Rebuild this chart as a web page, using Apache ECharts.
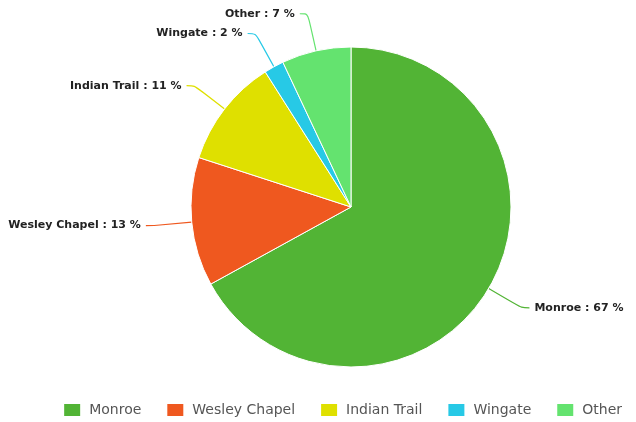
<!DOCTYPE html>
<html>
<head>
<meta charset="utf-8">
<script src="https://cdn.jsdelivr.net/npm/echarts@6/dist/echarts.min.js"></script>
<style>
  html, body { margin: 0; padding: 0; background: #fff; }
  #chart { width: 636px; height: 422px; }
</style>
</head>
<body>
<div id="chart"></div>
<script>
const categories = ['Monroe', 'Wesley Chapel', 'Indian Trail', 'Wingate', 'Other']
const shares = [67, 13, 11, 2, 7]
const colors = ['#52b435', '#ef581f', '#dfe000', '#27c9e6', '#64e36f']

const chart = echarts.init(document.getElementById('chart'))

chart.setOption({
  animation: false,
  color: colors,
  legend: {
    top: 397,
    right: 9,
    itemWidth: 18,
    itemHeight: 14,
    itemGap: 24,
    icon: 'rect',
    textStyle: { color: '#555', fontSize: 14, fontFamily: 'DejaVu Sans', padding: [0, 0, 0, 3] },
    data: categories
  },
  series: [{
    type: 'pie',
    center: [351, 207],
    radius: 160,
    startAngle: 90,
    clockwise: true,
    itemStyle: { borderColor: '#fff', borderWidth: 1 },
    label: {
      formatter: '{b} : {c} %',
      color: '#222',
      fontSize: 11,
      fontWeight: 'bold',
      fontFamily: 'DejaVu Sans',
      overflow: 'none'
    },
    labelLine: { length: 38, length2: 8, smooth: true, lineStyle: { width: 1.2 } },
    data: categories.map((name, i) => ({ name, value: shares[i] }))
  }]
})
</script>
</body>
</html>
